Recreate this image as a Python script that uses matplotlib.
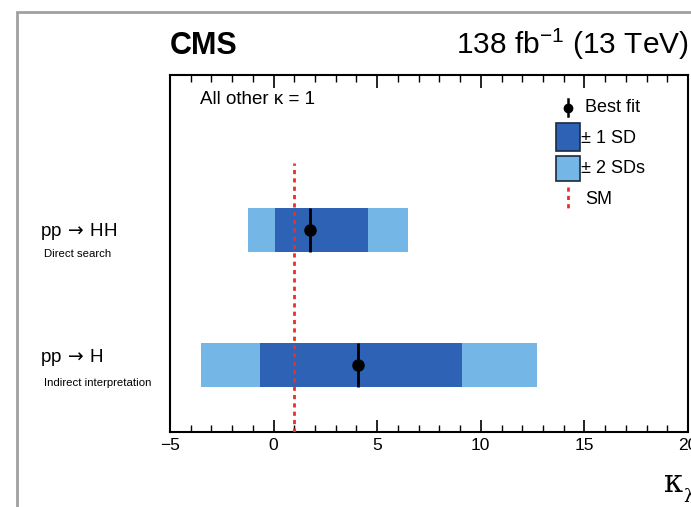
import matplotlib
matplotlib.use("Agg")
import matplotlib.pyplot as plt
from matplotlib.patches import Rectangle
from matplotlib.lines import Line2D
from matplotlib.ticker import MultipleLocator

plt.rcParams['font.family'] = ['Liberation Sans', 'DejaVu Sans']

# data
channels = [r"pp$\,\rightarrow\,$HH", r"pp$\,\rightarrow\,$H"]
subtitles = ["Direct search", "Indirect interpretation"]
ypos = [3, 1]
best_fit = [1.75, 4.05]
sd1_lo = [0.05, -0.65]
sd1_hi = [4.55, 9.1]
sd2_lo = [-1.25, -3.5]
sd2_hi = [6.5, 12.7]
sm_value = 1.0

W, H = 691, 507
fig = plt.figure(figsize=(W / 100, H / 100), dpi=100)

def fx(px):
    return px / W

def fy(py):
    return 1 - py / H

# outer gray frame
fig.patches.append(Rectangle((fx(17), fy(520)), fx(700) - fx(17), fy(12) - fy(520),
                             transform=fig.transFigure, fill=False,
                             edgecolor="#a0a0a0", lw=2.0))

ax = fig.add_axes([fx(170), fy(432), fx(688) - fx(170), fy(75) - fy(432)])

dark = "#2d62b5"
light = "#74b6e6"
bh = 0.65
for i in range(len(channels)):
    ax.barh(ypos[i], sd2_hi[i] - sd2_lo[i], left=sd2_lo[i], height=bh,
            color=light, edgecolor="none", zorder=1)
    ax.barh(ypos[i], sd1_hi[i] - sd1_lo[i], left=sd1_lo[i], height=bh,
            color=dark, edgecolor="none", zorder=2)
    ax.vlines(best_fit[i], ypos[i] - bh / 2, ypos[i] + bh / 2, color="black", lw=2, zorder=4)
    ax.plot(best_fit[i], ypos[i], "o", color="black", ms=8, zorder=5)

ax.vlines(sm_value, 0, 4.0, color="#e8302a", lw=2, linestyles=(0, (1.5, 1.5)), zorder=3)

ax.set_xlim(-5, 20)
ax.set_ylim(0, 5.3)
ax.set_yticks([])
ax.xaxis.set_major_locator(MultipleLocator(5))
ax.xaxis.set_minor_locator(MultipleLocator(1))
ax.tick_params(axis="x", which="major", direction="in", length=9, width=1.2, top=True,
               labelsize=12.5, pad=4)
ax.tick_params(axis="x", which="minor", direction="in", length=5, width=1.0, top=True)
for s in ax.spines.values():
    s.set_linewidth(1.5)
ax.set_xticks([-5, 0, 5, 10, 15, 20])
ax.set_xticklabels(["−5", "0", "5", "10", "15", "20"])

# titles
fig.text(fx(170), fy(54), "CMS", fontsize=22, fontweight="bold", ha="left", va="baseline")
fig.text(fx(689), fy(54), r"138 fb$^{\mathregular{-1}}$ (13 TeV)", fontsize=21.5,
         ha="right", va="baseline")
ax.text(0.058, 0.93, "All other κ = 1", transform=ax.transAxes, fontsize=13.5,
        ha="left", va="center")

# y labels
lab_y = [231, 357]
sub_y = [254, 383]
for i in range(len(channels)):
    fig.text(fx(40), fy(lab_y[i]), channels[i], fontsize=13.5, ha="left", va="center")
    fig.text(fx(44), fy(sub_y[i]), subtitles[i], fontsize=8.2, ha="left", va="center")

# x label (upright serif kappa with lambda subscript)
fig.text(fx(664), fy(483), "κ", fontsize=22, ha="left", va="center", family="DejaVu Serif")
fig.text(fx(683), fy(497), "λ", fontsize=13, ha="left", va="center", family="DejaVu Serif")

# manual legend (figure pixel coordinates)
fig.lines.append(Line2D([fx(568), fx(568)], [fy(99), fy(116)], transform=fig.transFigure,
                        color="black", lw=1.8))
fig.lines.append(Line2D([fx(568)], [fy(108)], transform=fig.transFigure, marker="o",
                        color="black", ms=6))
fig.text(fx(585), fy(107), "Best fit", fontsize=13, ha="left", va="center")
fig.patches.append(Rectangle((fx(556), fy(151)), fx(580) - fx(556), fy(123) - fy(151),
                             transform=fig.transFigure, facecolor=dark, edgecolor="#1a2a40", lw=1.2))
fig.text(fx(581), fy(138), "± 1 SD", fontsize=13, ha="left", va="center")
fig.patches.append(Rectangle((fx(556), fy(181)), fx(580) - fx(556), fy(156) - fy(181),
                             transform=fig.transFigure, facecolor=light, edgecolor="#1a2a40", lw=1.2))
fig.text(fx(581), fy(169), "± 2 SDs", fontsize=13, ha="left", va="center")
fig.lines.append(Line2D([fx(568), fx(568)], [fy(187), fy(209)], transform=fig.transFigure,
                        color="#e8302a", lw=2, linestyle=(0, (1.5, 1.5))))
fig.text(fx(585), fy(199), "SM", fontsize=13, ha="left", va="center")

fig.savefig("out.png", dpi=100)
